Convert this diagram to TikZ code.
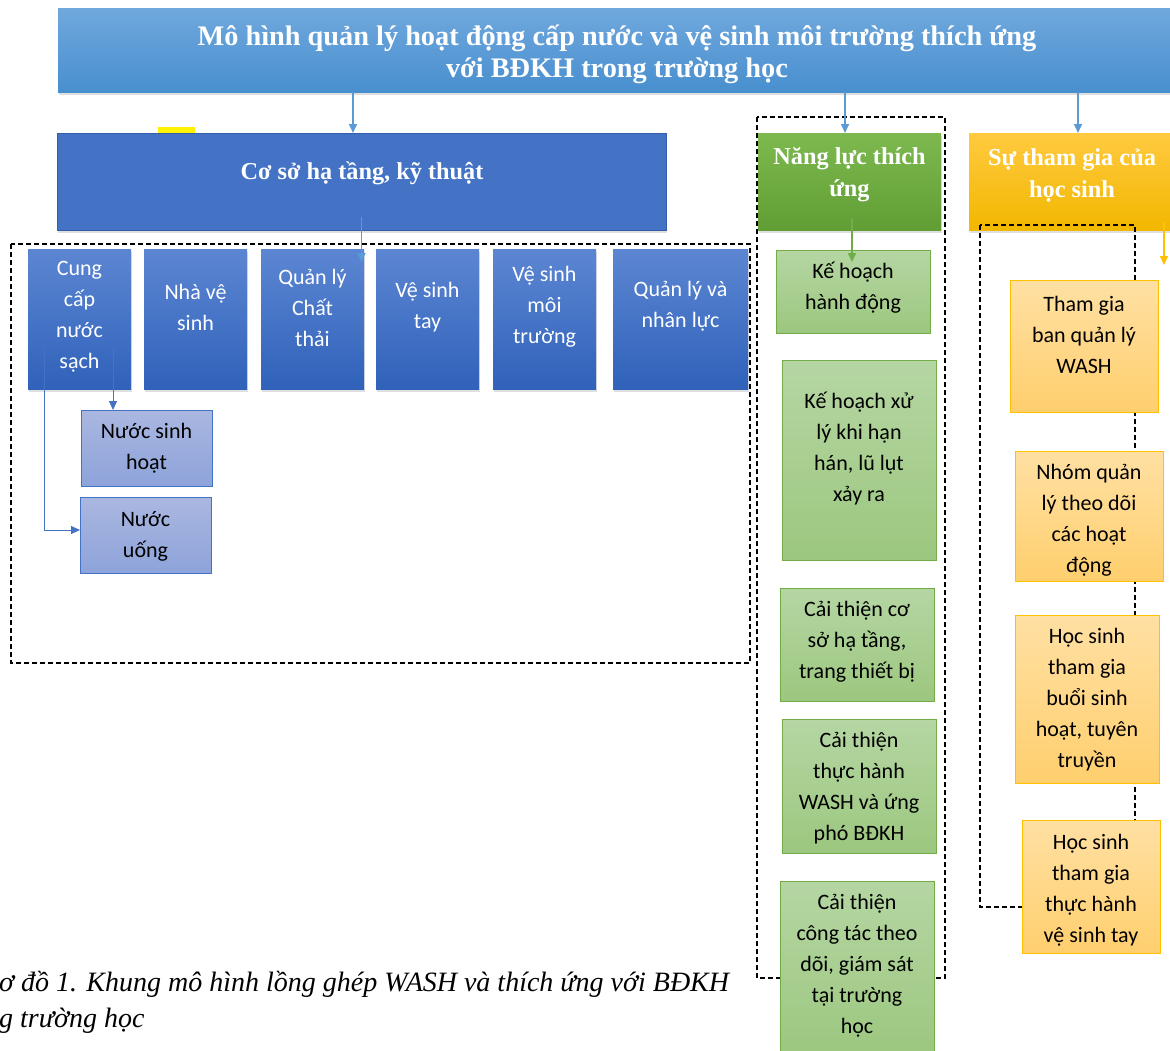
\documentclass[tikz,border=0pt]{standalone}
\usepackage{fontspec}
\setmainfont{Carlito}
\newfontfamily\headfont{Liberation Serif}
\usetikzlibrary{arrows.meta,calc,shadows}

\definecolor{bantop}{RGB}{112,168,221}
\definecolor{banbot}{RGB}{72,143,207}
\definecolor{csblue}{RGB}{68,114,196}
\definecolor{csedge}{RGB}{52,92,168}
\definecolor{btop}{RGB}{92,134,210}
\definecolor{bbot}{RGB}{48,98,186}
\definecolor{stop}{RGB}{170,183,224}
\definecolor{sbot}{RGB}{141,163,218}
\definecolor{gtop}{RGB}{125,185,78}
\definecolor{gbot}{RGB}{96,158,53}
\definecolor{lgtop}{RGB}{181,214,163}
\definecolor{lgbot}{RGB}{156,199,127}
\definecolor{gedge}{RGB}{112,173,71}
\definecolor{ytop}{RGB}{255,202,64}
\definecolor{ybot}{RGB}{242,183,0}
\definecolor{lytop}{RGB}{255,224,163}
\definecolor{lybot}{RGB}{255,207,110}
\definecolor{yedge}{RGB}{255,192,0}
\definecolor{arrblue}{RGB}{91,155,213}

\tikzset{
  box/.style={line width=1pt, inner sep=0pt, outer sep=0pt},
  shade/.style={drop shadow={shadow xshift=1pt, shadow yshift=-3pt, opacity=.25}},
  head/.style={box, shade, minimum height=97pt},
  bluebox/.style={box, shade, draw=none, top color=btop, bottom color=bbot,
    minimum width=103pt, minimum height=140pt},
  subbox/.style={box, draw=csblue, top color=stop, bottom color=sbot,
    minimum width=131pt, minimum height=76pt},
  greenbox/.style={box, draw=gedge, top color=lgtop, bottom color=lgbot,
    minimum width=154pt},
  yelbox/.style={box, draw=yedge, top color=lytop, bottom color=lybot,
    minimum width=146pt},
  headtxt/.style={text=white, align=center, font=\headfont\bfseries\fontsize{24.3}{32}\selectfont},
  boxtxt/.style={align=center, font=\fontsize{22}{31}\selectfont},
  frame/.style={line width=1.1pt, dash pattern=on 5pt off 3pt},
  arr/.style={->, arrblue, line width=1.6pt},
  thin/.style={->, csblue, line width=1pt}
}

\begin{document}
\begin{tikzpicture}[x=1pt, y=-1pt, >={Triangle[length=9pt,width=8pt]}]
\useasboundingbox (0,0) rectangle (1170,1050);

\draw[frame] (11,244) rectangle (750,663);
\draw[frame] (757,117) rectangle (945,978);

% headers
\node[box, shade, top color=bantop, bottom color=banbot, minimum width=1122pt,
  minimum height=84pt] (top) at (619,50) {};
\node[text=white, align=center, font=\headfont\bfseries\fontsize{28.3}{32}\selectfont]
  (topt) at (617,54.5)
  {Mô hình quản lý hoạt động cấp nước và vệ sinh môi trường thích ứng\\với BĐKH trong trường học};
\fill[yellow] (158,127) rectangle (195,133);
\node[head, fill=csblue, draw=csedge, minimum width=609pt] (cs) at (361.5,181.5) {};
\node[headtxt] (cst) at (362,173) {Cơ sở hạ tầng, kỹ thuật};
\node[head, top color=gtop, bottom color=gbot, minimum width=183pt] (nl) at (849.5,181.5) {};
\node[headtxt] (nlt) at (849.5,175) {Năng lực thích\\ứng};
\node[head, top color=ytop, bottom color=ybot, minimum width=207pt] (st) at (1072.5,181.5) {};
\node[headtxt] (stt) at (1072,175) {Sự tham gia của\\học sinh};

\draw[frame] (980,225) rectangle (1135,907);

% blue row
\node[bluebox] (cung) at (79.5,319) {};
\node[bluebox] (nha) at (195.5,319) {};
\node[bluebox] (qlct) at (312.5,319) {};
\node[bluebox] (vst) at (427.5,319) {};
\node[bluebox] (vsmt) at (544.5,319) {};
\node[bluebox, minimum width=135pt] (qlnl) at (680.5,319) {};
\node[boxtxt, text=white] at (79.5,317) {Cung\\cấp\\nước\\sạch};
\node[boxtxt, text=white] at (195.5,307.5) {Nhà vệ\\sinh};
\node[boxtxt, text=white] at (312.5,307.5) {Quản lý\\Chất\\thải};
\node[boxtxt, text=white] at (427.5,307.5) {Vệ sinh\\tay};
\node[boxtxt, text=white] at (544.5,307) {Vệ sinh\\môi\\trường};
\node[boxtxt, text=white] at (680.5,306.5) {Quản lý và\\nhân lực};

\node[subbox] (nsh) at (146.5,448) {};
\node[boxtxt] at (146.5,448) {Nước sinh\\hoạt};
\node[subbox] (nu) at (145.5,535.5) {};
\node[boxtxt] at (145.5,536.5) {Nước\\uống};

% green column
\node[greenbox, minimum height=83pt] (g1) at (853,291.5) {};
\node[boxtxt] at (853,287.5) {Kế hoạch\\hành động};
\node[greenbox, minimum height=200pt] (g2) at (859,460) {};
\node[boxtxt] at (859,449) {Kế hoạch xử\\lý khi hạn\\hán, lũ lụt\\xảy ra};
\node[greenbox, minimum height=113pt] (g3) at (857,644.5) {};
\node[boxtxt] at (857,642) {Cải thiện cơ\\sở hạ tầng,\\trang thiết bị};
\node[greenbox, minimum height=134pt] (g4) at (859,786) {};
\node[boxtxt] at (859,788.5) {Cải thiện\\thực hành\\WASH và ứng\\phó BĐKH};
\node[greenbox, minimum height=175pt] (g5) at (857,968.5) {};
\node[boxtxt] at (857,966) {Cải thiện\\công tác theo\\dõi, giám sát\\tại trường\\học};

% yellow column
\node[yelbox, minimum width=148pt, minimum height=132pt] (y1) at (1084,346) {};
\node[boxtxt] at (1084,334.5) {Tham gia\\ban quản lý\\WASH};
\node[yelbox, minimum width=148pt, minimum height=130pt] (y2) at (1089,516) {};
\begin{scope}
  \clip (y2.north west) rectangle ($(y2.south east)+(0,-4)$);
  \node[boxtxt] at (1089,520.5) {Nhóm quản\\lý theo dõi\\các hoạt\\động};
\end{scope}
\node[yelbox, minimum width=144pt, minimum height=168pt] (y3) at (1087,699) {};
\node[boxtxt] at (1087,699.5) {Học sinh\\tham gia\\buổi sinh\\hoạt, tuyên\\truyền};
\node[yelbox, minimum width=138pt, minimum height=133pt] (y4) at (1091,886.5) {};
\node[boxtxt] at (1091,890) {Học sinh\\tham gia\\thực hành\\vệ sinh tay};

% connectors
\coordinate (a1) at ($(cs.north)+(-8.5,0)$);
\coordinate (a2) at ($(nl.north)+(-4.5,0)$);
\coordinate (a3) at ($(st.north)+(5.5,0)$);
\draw[arr] (a1 |- top.south) -- (a1);
\draw[arr] (a2 |- top.south) -- (a2);
\draw[arr] (a3 |- top.south) -- (a3);
\coordinate (k0) at ($(cs.south)+(0,-13)$);
\draw[arr] (k0) -- ($(k0 |- qlct.north)+(0,13)$);
\coordinate (k1) at ($(cung.south)+(33.5,-41)$);
\draw[thin] (k1) -- (k1 |- nsh.north);
\coordinate (k2) at ($(cung.south)+(-35.5,-43)$);
\draw[thin] (k2) |- ([yshift=5.5pt]nu.west);
\coordinate (k3) at ($(nl.south)+(2.5,-12)$);
\draw[->, gedge, line width=1.6pt] (k3) -- ($(k3 |- g1.north)+(0,12)$);
\coordinate (k4) at ($(st.south)+(91.5,-8)$);
\coordinate (k5) at ($(k4)+(0,43)$);
\draw[->, yedge, line width=1.6pt] (k4) -- (k5);

% caption
\node[anchor=west, align=left, inner sep=0pt,
  font=\headfont\itshape\fontsize{28}{36}\selectfont] (cap) at (-1,1002)
  {ơ đồ 1. Khung mô hình lồng ghép WASH và thích ứng với BĐKH\\g trường học};
\end{tikzpicture}
\end{document}
